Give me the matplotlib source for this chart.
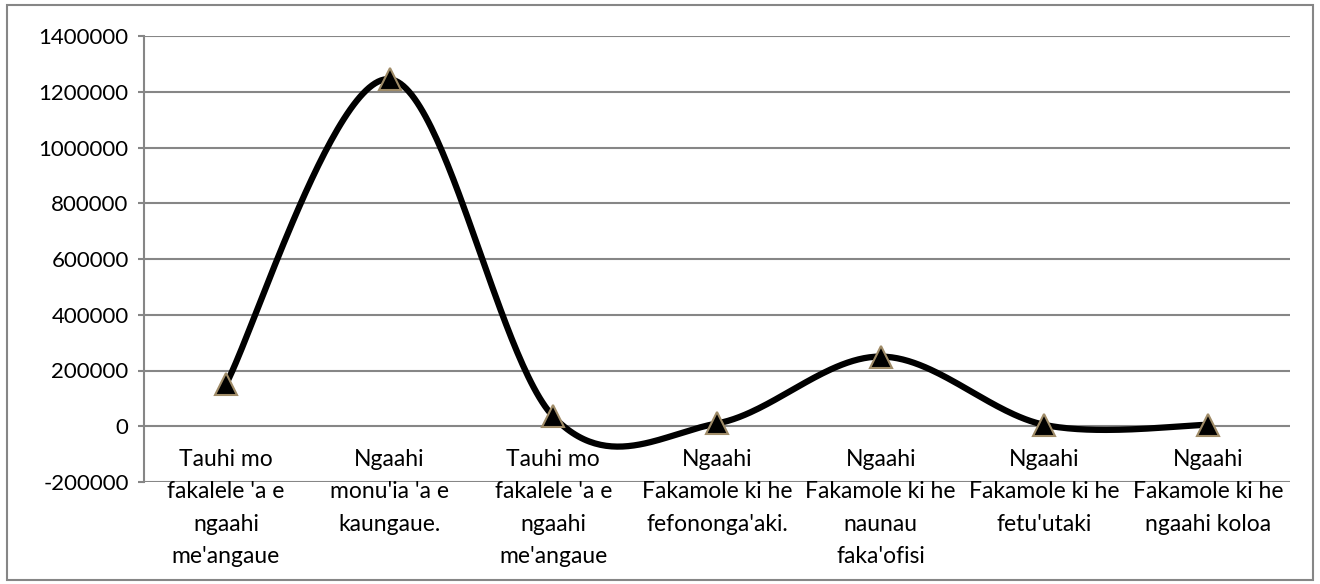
import numpy as np
import matplotlib.pyplot as plt
from matplotlib.patches import Rectangle

plt.rcParams['font.family'] = ['Lato', 'DejaVu Sans']

# Daten
kategorien = [
    "Tauhi mo\nfakalele 'a e\nngaahi\nme'angaue",
    "Ngaahi\nmonu'ia 'a e\nkaungaue.",
    "Tauhi mo\nfakalele 'a e\nngaahi\nme'angaue",
    "Ngaahi\nFakamole ki he\nfefononga'aki.",
    "Ngaahi\nFakamole ki he\nnaunau\nfaka'ofisi",
    "Ngaahi\nFakamole ki he\nfetu'utaki",
    "Ngaahi\nFakamole ki he\nngaahi koloa",
]
werte = [150000, 1245000, 35000, 10000, 250000, 5000, 5000]
y_ticks = [-200000, 0, 200000, 400000, 600000, 800000, 1000000, 1200000, 1400000]

grau = '#868686'


# geglaettete Linie wie in Excel (Bezier / Catmull-Rom)
def glatt(x, y, n=60):
    x = np.asarray(x, float)
    y = np.asarray(y, float)
    px = np.concatenate([[x[0]], x, [x[-1]]])
    py = np.concatenate([[y[0]], y, [y[-1]]])
    t = np.linspace(0, 1, n)
    xs, ys = [], []
    for i in range(1, len(x)):
        p0x, p0y = px[i], py[i]
        p3x, p3y = px[i + 1], py[i + 1]
        p1x = p0x + (px[i + 1] - px[i - 1]) / 6
        p1y = p0y + (py[i + 1] - py[i - 1]) / 6
        p2x = p3x - (px[i + 2] - px[i]) / 6
        p2y = p3y - (py[i + 2] - py[i]) / 6
        b0 = (1 - t) ** 3
        b1 = 3 * (1 - t) ** 2 * t
        b2 = 3 * (1 - t) * t ** 2
        b3 = t ** 3
        xs.append(b0 * p0x + b1 * p1x + b2 * p2x + b3 * p3x)
        ys.append(b0 * p0y + b1 * p1y + b2 * p2y + b3 * p3y)
    return np.concatenate(xs), np.concatenate(ys)


fig = plt.figure(figsize=(13.2, 5.84), dpi=100)
ax = fig.add_axes([144 / 1320, 1 - 482 / 584, (1290 - 144) / 1320, (482 - 36) / 584])

x = np.arange(len(werte))
sx, sy = glatt(x, werte)
ax.plot(sx, sy, color='black', lw=4.5, solid_capstyle='round', zorder=3)
ax.plot(x, werte, linestyle='none', marker='^', markersize=16,
        markerfacecolor='black', markeredgecolor='#a08c68', markeredgewidth=1.5, zorder=4)

ax.set_xlim(-0.5, len(werte) - 0.5)
ax.set_ylim(-200000, 1400000)
ax.set_yticks(y_ticks)
ax.set_yticklabels([str(v) for v in y_ticks], fontsize=16)
ax.set_xticks([])
ax.yaxis.grid(True, color=grau, lw=1.5)
ax.set_axisbelow(True)
for s in ['top', 'right', 'bottom']:
    ax.spines[s].set_visible(False)
ax.spines['left'].set_color(grau)
ax.spines['left'].set_linewidth(1.5)
ax.tick_params(axis='y', colors=grau, length=4, width=1.5, labelcolor='black', pad=7)

for i, lab in enumerate(kategorien):
    ax.annotate(lab, (i, 0), xytext=(0, -23), textcoords='offset pixels',
                ha='center', va='top', fontsize=16.5, linespacing=1.66,
                annotation_clip=False)

fig.patches.append(Rectangle((7 / 1320, 1 - 580 / 584), 1306 / 1320, 575 / 584,
                             transform=fig.transFigure, fill=False,
                             edgecolor=grau, lw=1.5))

plt.savefig('out.png', dpi=100)
